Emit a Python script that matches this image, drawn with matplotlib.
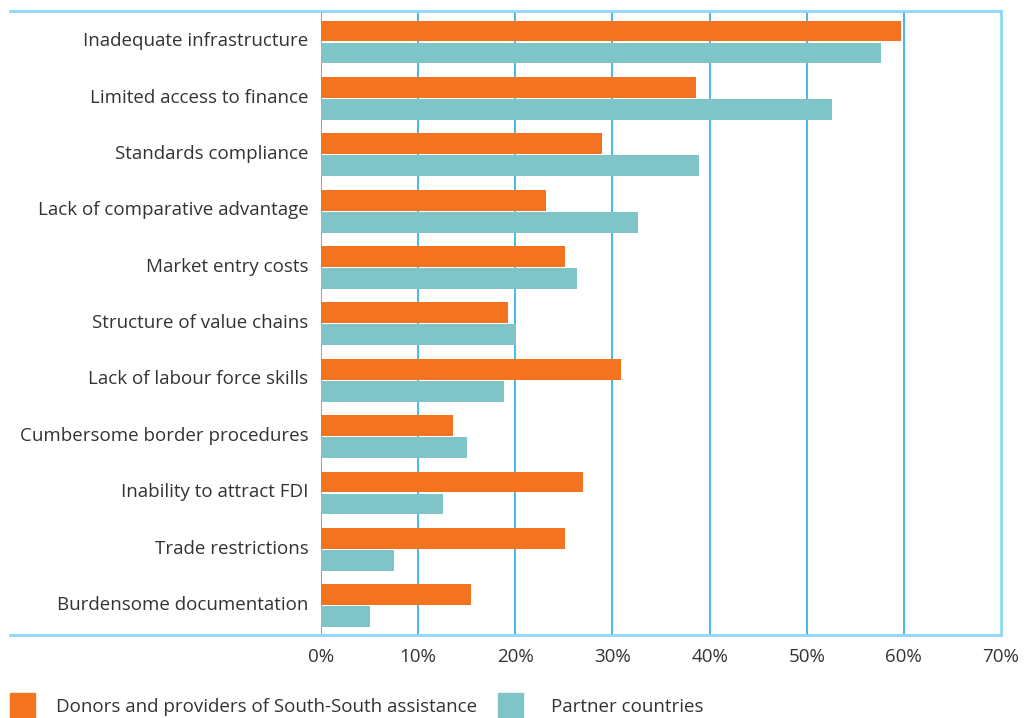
import matplotlib
matplotlib.use('Agg')
import matplotlib.pyplot as plt
from matplotlib.lines import Line2D
from matplotlib.patches import Rectangle
import numpy as np

plt.rcParams['font.family'] = ['Open Sans', 'DejaVu Sans']

categories = [
    'Inadequate infrastructure',
    'Limited access to finance',
    'Standards compliance',
    'Lack of comparative advantage',
    'Market entry costs',
    'Structure of value chains',
    'Lack of labour force skills',
    'Cumbersome border procedures',
    'Inability to attract FDI',
    'Trade restrictions',
    'Burdensome documentation',
]
donors = [59.7, 38.6, 28.9, 23.2, 25.1, 19.3, 30.9, 13.6, 27.0, 25.1, 15.4]
partners = [57.6, 52.6, 38.9, 32.6, 26.4, 20.1, 18.8, 15.0, 12.6, 7.5, 5.0]
series_names = ['Donors and providers of South-South assistance', 'Partner countries']
xticks = [0, 10, 20, 30, 40, 50, 60, 70]

orange = '#f47321'
teal = '#7fc4c6'
grid_blue = '#29abe2'
frame_blue = '#8dd8f8'
text_col = '#333333'

fig = plt.figure(figsize=(10.24, 7.18), dpi=100)
ax = fig.add_axes([321 / 1024, 1 - 635 / 718, 680 / 1024, 624 / 718])

y = np.arange(len(categories))
h = 0.37
ax.barh(y - 0.195, donors, height=h, color=orange, zorder=3)
ax.barh(y + 0.195, partners, height=h, color=teal, zorder=3)

ax.set_xlim(0, 70)
ax.set_ylim(10.52, -0.55)
ax.set_xticks(xticks)
ax.set_xticklabels(['{}%'.format(t) for t in xticks])
ax.set_yticks(y - 0.05)
ax.set_yticklabels(categories)
ax.tick_params(length=0, labelsize=13.5, colors=text_col)
ax.tick_params(axis='x', pad=9)
ax.tick_params(axis='y', pad=9)

for t in xticks[:-1]:
    ax.axvline(t, color=grid_blue, lw=1.2, zorder=2)
for s in ax.spines.values():
    s.set_visible(False)
ax.spines['right'].set_visible(True)
ax.spines['right'].set_color(frame_blue)
ax.spines['right'].set_linewidth(2)

# top and bottom frame lines run out to the left edge
x0 = (10 - 321) / 680
for yy in (0, 1):
    ax.add_line(Line2D([x0, 1], [yy, yy], transform=ax.transAxes,
                       color=frame_blue, lw=2, clip_on=False, zorder=4))

# legend
for xs, xt, col, name in [(10, 56, orange, series_names[0]), (498, 551, teal, series_names[1])]:
    fig.patches.append(Rectangle((xs / 1024, 0), 25 / 1024, 25 / 718,
                                 transform=fig.transFigure, color=col))
    fig.text(xt / 1024, 11 / 718, name, fontsize=13.5, color=text_col, va='center')

fig.savefig('out.png', dpi=100)
